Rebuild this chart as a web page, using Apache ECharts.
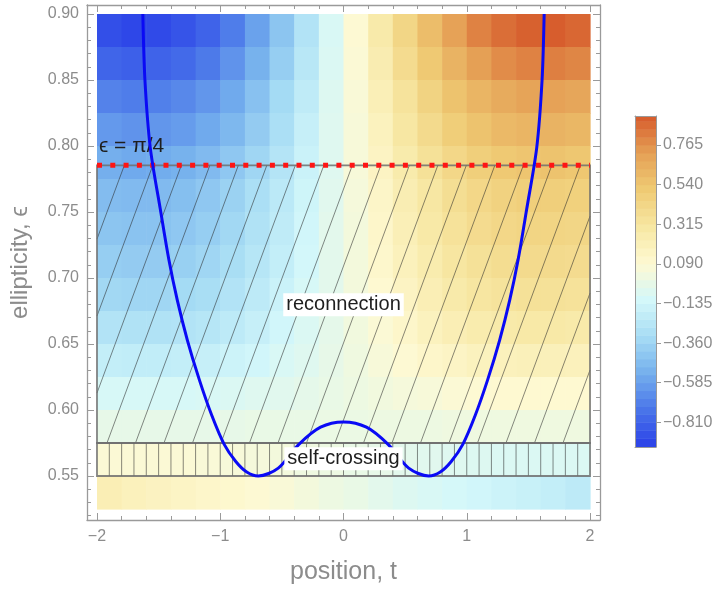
<!DOCTYPE html>
<html>
<head>
<meta charset="utf-8">
<script src="https://cdn.jsdelivr.net/npm/echarts@6/dist/echarts.min.js"></script>
<style>
html, body { margin: 0; padding: 0; background: #fff; }
#chart { width: 721px; height: 590px; }
</style>
</head>
<body>
<div id="chart"></div>
<script>
// background field: one row per ellipticity band (top to bottom)
var tCells = [-1.9, -1.7, -1.5, -1.3, -1.1, -0.9, -0.7, -0.5, -0.3, -0.1, 0.1, 0.3, 0.5, 0.7, 0.9, 1.1, 1.3, 1.5, 1.7, 1.9];
var eCells = [0.8875, 0.8625, 0.8375, 0.8125, 0.7875, 0.7625, 0.7375, 0.7125, 0.6875, 0.6625, 0.6375, 0.6125, 0.5875, 0.5625, 0.5375];
var field = [
    [-0.89, -0.92, -0.91, -0.87, -0.81, -0.71, -0.58, -0.43, -0.27, -0.09, 0.09, 0.27, 0.43, 0.58, 0.71, 0.81, 0.87, 0.91, 0.92, 0.89],
    [-0.80, -0.82, -0.81, -0.78, -0.72, -0.63, -0.52, -0.39, -0.24, -0.08, 0.08, 0.24, 0.39, 0.52, 0.63, 0.72, 0.78, 0.81, 0.82, 0.80],
    [-0.69, -0.71, -0.70, -0.67, -0.62, -0.55, -0.45, -0.33, -0.21, -0.07, 0.07, 0.21, 0.33, 0.45, 0.55, 0.62, 0.67, 0.70, 0.71, 0.69],
    [-0.61, -0.63, -0.62, -0.60, -0.55, -0.49, -0.40, -0.30, -0.18, -0.06, 0.06, 0.18, 0.30, 0.40, 0.49, 0.55, 0.60, 0.62, 0.63, 0.61],
    [-0.53, -0.55, -0.54, -0.52, -0.48, -0.42, -0.35, -0.26, -0.16, -0.06, 0.06, 0.16, 0.26, 0.35, 0.42, 0.48, 0.52, 0.54, 0.55, 0.53],
    [-0.47, -0.48, -0.48, -0.46, -0.42, -0.37, -0.30, -0.23, -0.14, -0.05, 0.05, 0.14, 0.23, 0.30, 0.37, 0.42, 0.46, 0.48, 0.48, 0.47],
    [-0.43, -0.44, -0.44, -0.42, -0.39, -0.34, -0.28, -0.21, -0.13, -0.04, 0.04, 0.13, 0.21, 0.28, 0.34, 0.39, 0.42, 0.44, 0.44, 0.43],
    [-0.39, -0.40, -0.40, -0.38, -0.35, -0.31, -0.25, -0.19, -0.12, -0.04, 0.04, 0.12, 0.19, 0.25, 0.31, 0.35, 0.38, 0.40, 0.40, 0.39],
    [-0.34, -0.35, -0.35, -0.33, -0.31, -0.27, -0.22, -0.16, -0.10, -0.04, 0.04, 0.10, 0.16, 0.22, 0.27, 0.31, 0.33, 0.35, 0.35, 0.34],
    [-0.27, -0.28, -0.28, -0.27, -0.25, -0.22, -0.18, -0.13, -0.08, -0.03, 0.03, 0.08, 0.13, 0.18, 0.22, 0.25, 0.27, 0.28, 0.28, 0.27],
    [-0.19, -0.20, -0.20, -0.19, -0.18, -0.15, -0.13, -0.09, -0.06, -0.02, 0.02, 0.06, 0.09, 0.13, 0.15, 0.18, 0.19, 0.20, 0.20, 0.19],
    [-0.10, -0.10, -0.10, -0.10, -0.09, -0.08, -0.06, -0.05, -0.03, -0.01, 0.01, 0.03, 0.05, 0.06, 0.08, 0.09, 0.10, 0.10, 0.10, 0.10],
    [-0.02, -0.02, -0.02, -0.02, -0.02, -0.02, -0.01, -0.01, -0.01, 0.00, 0.00, 0.01, 0.01, 0.01, 0.02, 0.02, 0.02, 0.02, 0.02, 0.02],
    [0.08, 0.08, 0.08, 0.08, 0.07, 0.06, 0.05, 0.04, 0.02, 0.01, -0.01, -0.02, -0.04, -0.05, -0.06, -0.07, -0.08, -0.08, -0.08, -0.08],
    [0.22, 0.19, 0.17, 0.15, 0.13, 0.11, 0.09, 0.07, 0.04, 0.01, -0.01, -0.04, -0.07, -0.09, -0.11, -0.13, -0.15, -0.17, -0.19, -0.22]
];

// boundary curve (blue)
var curveT = [-1.628, -1.611, -1.568, -1.486, -1.417, -1.348, -1.267, -1.170, -1.069, -0.968, -0.874, -0.785, -0.692,
              -0.529, -0.362, -0.186, 0, 0.186, 0.362, 0.529,
              0.692, 0.785, 0.874, 0.968, 1.069, 1.170, 1.267, 1.348, 1.417, 1.486, 1.568, 1.611, 1.628];
var curveE = [0.900, 0.850, 0.799, 0.752, 0.714, 0.683, 0.653, 0.623, 0.596, 0.574, 0.561, 0.553, 0.550,
              0.556, 0.574, 0.587, 0.591, 0.587, 0.574, 0.556,
              0.550, 0.553, 0.561, 0.574, 0.596, 0.623, 0.653, 0.683, 0.714, 0.752, 0.799, 0.850, 0.900];

// eps = pi/4 line and the two shaded bands
var piLineT = [-2, 2];
var piE = 0.7854;
var bandT = [-2, 2];
var reconnE = [0.575, 0.7854];
var crossE = [0.55, 0.575];

// text notes
var noteText = ['reconnection', 'self-crossing'];
var noteT = [0, 0];
var noteE = [0.6798, 0.5631];
var epsNote = { text: 'ϵ = π/4', t: -1.984, e: 0.800 };

// ticks
var xTicks = [-2, -1, 0, 1, 2];
var xMinor = [-2, -1.8, -1.6, -1.4, -1.2, -1, -0.8, -0.6, -0.4, -0.2, 0, 0.2, 0.4, 0.6, 0.8, 1, 1.2, 1.4, 1.6, 1.8, 2];
var yTicks = [0.55, 0.6, 0.65, 0.7, 0.75, 0.8, 0.85, 0.9];
var yMinor = [0.52, 0.53, 0.54, 0.55, 0.56, 0.57, 0.58, 0.59, 0.6, 0.61, 0.62, 0.63, 0.64, 0.65, 0.66, 0.67, 0.68, 0.69, 0.7,
              0.71, 0.72, 0.73, 0.74, 0.75, 0.76, 0.77, 0.78, 0.79, 0.8, 0.81, 0.82, 0.83, 0.84, 0.85, 0.86, 0.87, 0.88, 0.89, 0.9];

// colour legend
var cbTicks = [-0.81, -0.585, -0.36, -0.135, 0.09, 0.315, 0.54, 0.765];
var cbEdges = [-0.95, -0.9, -0.855, -0.81, -0.765, -0.72, -0.675, -0.63, -0.585, -0.54, -0.495, -0.45, -0.405, -0.36, -0.315,
               -0.27, -0.225, -0.18, -0.135, -0.09, -0.045, 0, 0.045, 0.09, 0.135, 0.18, 0.225, 0.27, 0.315, 0.36, 0.405,
               0.45, 0.495, 0.54, 0.585, 0.63, 0.675, 0.72, 0.765, 0.81, 0.855, 0.9, 0.93];

var cellT = 0.2, cellE = 0.025;
var palette = ['#2a40e8', '#4974e9', '#74afed', '#a6dcf4', '#d4f8fa', '#fef9d2', '#f7e7a2', '#efcb74', '#e5a055', '#d65a2b'];
var gray = '#8c8c8c';
var frameColor = '#9a9a9a';
var font = '"Liberation Sans", Arial, "DejaVu Sans", sans-serif';

var fieldData = [];
for (var i = 0; i < eCells.length; i++) {
    for (var j = 0; j < tCells.length; j++) {
        fieldData.push([tCells[j], eCells[i], field[i][j]]);
    }
}
var curveData = curveT.map(function (t, k) { return [t, curveE[k]]; });
var cbData = [];
for (var k = 0; k < cbEdges.length - 1; k++) {
    cbData.push([cbEdges[k], cbEdges[k + 1], (cbEdges[k] + cbEdges[k + 1]) / 2]);
}
var bandData = [
    [bandT[0], bandT[1], reconnE[0], reconnE[1], 0],
    [bandT[0], bandT[1], crossE[0], crossE[1], 1]
];
var noteData = noteText.map(function (s, k) { return [noteT[k], noteE[k]]; });

function fmtMinus(v, d) {
    var s = Math.abs(v).toFixed(d);
    return v < 0 ? '\u2212' + s : s;
}

function renderCell(params, api) {
    var a = api.coord([api.value(0) - cellT / 2, api.value(1) + cellE / 2]);
    var b = api.coord([api.value(0) + cellT / 2, api.value(1) - cellE / 2]);
    return {
        type: 'rect',
        shape: { x: a[0], y: a[1], width: b[0] - a[0] + 0.6, height: b[1] - a[1] + 0.6 },
        style: { fill: api.visual('color') }
    };
}

function renderBar(params, api) {
    var a = api.coord([0, api.value(1)]);
    var b = api.coord([1, api.value(0)]);
    return {
        type: 'rect',
        shape: { x: a[0], y: a[1], width: b[0] - a[0], height: b[1] - a[1] + 0.5 },
        style: { fill: api.visual('color') }
    };
}

// hatched bands: diagonal lines for reconnection, vertical lines for self-crossing
function renderBand(params, api) {
    var a = api.coord([api.value(0), api.value(3)]);
    var b = api.coord([api.value(1), api.value(2)]);
    var xl = a[0], xr = b[0], yt = a[1], yb = b[1];
    var H = yb - yt;
    var kids = [];
    var hatch = { stroke: 'rgba(40,40,40,0.55)', lineWidth: 1 };
    if (api.value(4) === 0) {
        var k = 2.7, step = 28.5;
        var run = H / k;
        for (var xb = xl + 10 - step * Math.ceil(run / step); xb <= xr; xb += step) {
            var x1 = xb, y1 = yb, x2 = xb + run, y2 = yt;
            if (x1 < xl) { y1 = yb - (xl - xb) * k; x1 = xl; }
            if (x2 > xr) { y2 = yb - (xr - xb) * k; x2 = xr; }
            if (x2 > x1) {
                kids.push({ type: 'line', shape: { x1: x1, y1: y1, x2: x2, y2: y2 }, style: hatch });
            }
        }
    } else {
        var sp = api.size([0.1, 0])[0];
        for (var x = xl + sp; x < xr - 1; x += sp) {
            kids.push({ type: 'line', shape: { x1: x, y1: yt, x2: x, y2: yb }, style: hatch });
        }
    }
    kids.push({
        type: 'rect',
        shape: { x: xl, y: yt, width: xr - xl, height: H },
        style: { fill: 'none', stroke: 'rgba(110,110,110,0.85)', lineWidth: 1.8 }
    });
    return { type: 'group', children: kids };
}

function renderNote(params, api) {
    var p = api.coord([api.value(0), api.value(1)]);
    return {
        type: 'text',
        x: p[0], y: p[1],
        style: {
            text: noteText[params.dataIndex],
            fill: '#1e1e1e',
            font: '20px ' + font,
            align: 'center',
            verticalAlign: 'middle',
            backgroundColor: '#ffffff',
            padding: [2, 3, 1, 3]
        }
    };
}

function renderEps(params, api) {
    var p = api.coord([api.value(0), api.value(1)]);
    return {
        type: 'text',
        x: p[0], y: p[1],
        style: {
            text: epsNote.text,
            fill: '#1e1e1e',
            font: '21px ' + font,
            align: 'left',
            verticalAlign: 'middle'
        }
    };
}

var xRange = { min: -2.081, max: 2.081 };
var yRange = { min: 0.51667, max: 0.90682 };
var noLabel = { show: false };
var noSplit = { show: false };
var noLine = { show: false, onZero: false };

var chart = echarts.init(document.getElementById('chart'));
chart.setOption({
    animation: false,
    backgroundColor: '#ffffff',
    grid: [
        { left: 86, top: 5, width: 514, height: 515 },
        { left: 635, top: 116, width: 21, height: 331 }
    ],
    visualMap: {
        type: 'continuous',
        show: false,
        min: -0.95,
        max: 0.93,
        dimension: 2,
        seriesIndex: [0, 1],
        inRange: { color: palette }
    },
    xAxis: [
        {
            type: 'value', gridIndex: 0, position: 'bottom', min: xRange.min, max: xRange.max,
            name: 'position, t', nameLocation: 'middle', nameGap: 40,
            nameTextStyle: { color: gray, fontSize: 25, fontFamily: font },
            axisLine: { show: true, onZero: false, lineStyle: { color: frameColor, width: 1.3 } },
            axisTick: { show: true, inside: true, length: 7, customValues: xTicks, lineStyle: { color: frameColor } },
            axisLabel: { customValues: xTicks, color: gray, fontSize: 16, fontFamily: font, margin: 9,
                formatter: function (v) { return fmtMinus(v, 0); } },
            splitLine: noSplit
        },
        {
            type: 'value', gridIndex: 0, position: 'bottom', min: xRange.min, max: xRange.max,
            axisLine: noLine,
            axisTick: { show: true, inside: true, length: 4, customValues: xMinor, lineStyle: { color: frameColor } },
            axisLabel: noLabel, splitLine: noSplit
        },
        {
            type: 'value', gridIndex: 0, position: 'top', min: xRange.min, max: xRange.max,
            axisLine: { show: true, onZero: false, lineStyle: { color: frameColor, width: 1.3 } },
            axisTick: { show: true, inside: true, length: 7, customValues: xTicks, lineStyle: { color: frameColor } },
            axisLabel: noLabel, splitLine: noSplit
        },
        {
            type: 'value', gridIndex: 0, position: 'top', min: xRange.min, max: xRange.max,
            axisLine: noLine,
            axisTick: { show: true, inside: true, length: 4, customValues: xMinor, lineStyle: { color: frameColor } },
            axisLabel: noLabel, splitLine: noSplit
        },
        {
            type: 'value', gridIndex: 1, position: 'bottom', min: 0, max: 1, z: 10,
            axisLine: { show: true, onZero: false, lineStyle: { color: '#9a9a9a', width: 1 } },
            axisTick: { show: false }, axisLabel: noLabel, splitLine: noSplit
        },
        {
            type: 'value', gridIndex: 1, position: 'top', min: 0, max: 1, z: 10,
            axisLine: { show: true, onZero: false, lineStyle: { color: '#9a9a9a', width: 1 } },
            axisTick: { show: false }, axisLabel: noLabel, splitLine: noSplit
        }
    ],
    yAxis: [
        {
            type: 'value', gridIndex: 0, position: 'left', min: yRange.min, max: yRange.max,
            name: 'ellipticity, ϵ', nameLocation: 'middle', nameGap: 55,
            nameTextStyle: { color: gray, fontSize: 24, fontFamily: font },
            axisLine: { show: true, onZero: false, lineStyle: { color: frameColor, width: 1.3 } },
            axisTick: { show: true, inside: true, length: 7, customValues: yTicks, lineStyle: { color: frameColor } },
            axisLabel: { customValues: yTicks, color: gray, fontSize: 16, fontFamily: font, margin: 8,
                formatter: function (v) { return v.toFixed(2); } },
            splitLine: noSplit
        },
        {
            type: 'value', gridIndex: 0, position: 'left', min: yRange.min, max: yRange.max,
            axisLine: noLine,
            axisTick: { show: true, inside: true, length: 4, customValues: yMinor, lineStyle: { color: frameColor } },
            axisLabel: noLabel, splitLine: noSplit
        },
        {
            type: 'value', gridIndex: 0, position: 'right', min: yRange.min, max: yRange.max,
            axisLine: { show: true, onZero: false, lineStyle: { color: frameColor, width: 1.3 } },
            axisTick: { show: true, inside: true, length: 7, customValues: yTicks, lineStyle: { color: frameColor } },
            axisLabel: noLabel, splitLine: noSplit
        },
        {
            type: 'value', gridIndex: 0, position: 'right', min: yRange.min, max: yRange.max,
            axisLine: noLine,
            axisTick: { show: true, inside: true, length: 4, customValues: yMinor, lineStyle: { color: frameColor } },
            axisLabel: noLabel, splitLine: noSplit
        },
        {
            type: 'value', gridIndex: 1, position: 'right', min: -0.95, max: 0.93, z: 10,
            axisLine: { show: true, onZero: false, lineStyle: { color: '#9a9a9a', width: 1 } },
            axisTick: { show: true, length: 5, customValues: cbTicks, lineStyle: { color: '#9a9a9a' } },
            axisLabel: { customValues: cbTicks, color: gray, fontSize: 16, fontFamily: font, margin: 7,
                formatter: function (v) { return fmtMinus(v, 3); } },
            splitLine: noSplit
        },
        {
            type: 'value', gridIndex: 1, position: 'left', min: -0.95, max: 0.93, z: 10,
            axisLine: { show: true, onZero: false, lineStyle: { color: '#9a9a9a', width: 1 } },
            axisTick: { show: false }, axisLabel: noLabel, splitLine: noSplit
        }
    ],
    series: [
        {
            type: 'custom', name: 'field', xAxisIndex: 0, yAxisIndex: 0, z: 1,
            renderItem: renderCell, data: fieldData, encode: { x: 0, y: 1 }, silent: true
        },
        {
            type: 'custom', name: 'legend', xAxisIndex: 4, yAxisIndex: 4, z: 1,
            renderItem: renderBar, data: cbData, encode: { y: [0, 1] }, silent: true
        },
        {
            type: 'custom', name: 'bands', xAxisIndex: 0, yAxisIndex: 0, z: 2,
            renderItem: renderBand, data: bandData, encode: { x: [0, 1], y: [2, 3] }, silent: true
        },
        {
            type: 'line', name: 'pi4', xAxisIndex: 0, yAxisIndex: 0, z: 3,
            data: piLineT.map(function (t) { return [t, piE]; }),
            showSymbol: false, silent: true,
            lineStyle: { color: '#ff1414', width: 5, type: [5, 8.3], cap: 'butt' }
        },
        {
            type: 'line', name: 'curve', xAxisIndex: 0, yAxisIndex: 0, z: 4,
            data: curveData, smooth: 0.3, showSymbol: false, silent: true,
            lineStyle: { color: '#0a0af5', width: 3 }
        },
        {
            type: 'custom', name: 'eps', xAxisIndex: 0, yAxisIndex: 0, z: 3,
            renderItem: renderEps, data: [[epsNote.t, epsNote.e]], silent: true
        },
        {
            type: 'custom', name: 'notes', xAxisIndex: 0, yAxisIndex: 0, z: 5,
            renderItem: renderNote, data: noteData, silent: true
        }
    ]
});
</script>
</body>
</html>
